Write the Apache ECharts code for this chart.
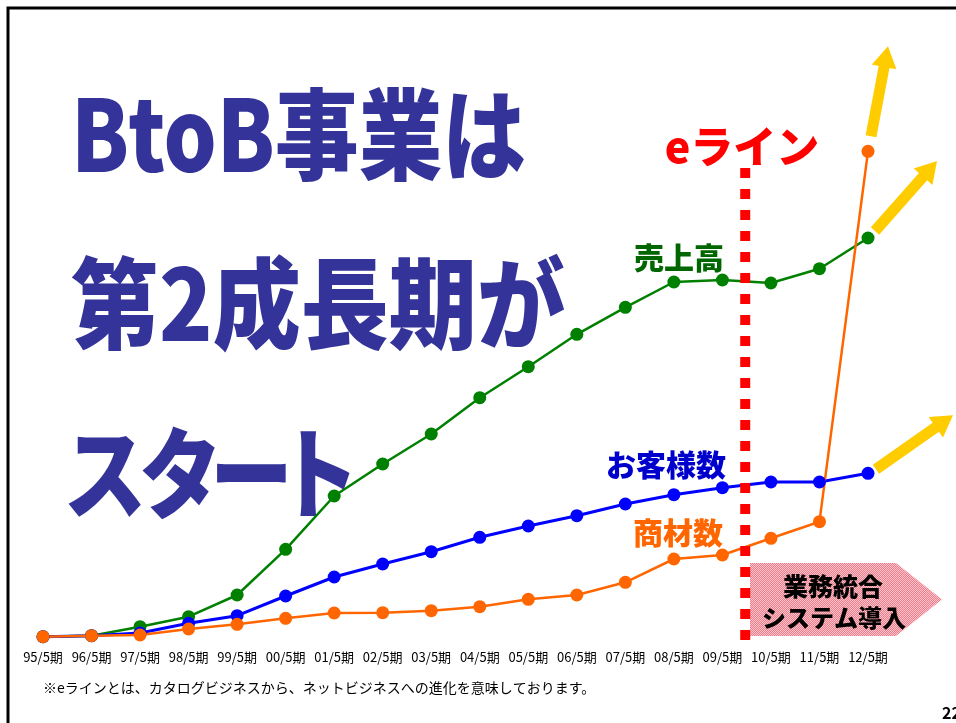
<!DOCTYPE html>
<html>
<head>
<meta charset="utf-8">
<script src="https://cdn.jsdelivr.net/npm/echarts@6/dist/echarts.min.js"></script>
<style>
  html, body { margin: 0; padding: 0; background: #fff; }
  #chart { width: 956px; height: 723px; }
</style>
</head>
<body>
<div id="chart"></div>
<script>
// Fiscal periods on the x axis
const periods = ['95/5期', '96/5期', '97/5期', '98/5期', '99/5期', '00/5期', '01/5期', '02/5期', '03/5期',
                 '04/5期', '05/5期', '06/5期', '07/5期', '08/5期', '09/5期', '10/5期', '11/5期', '12/5期'];

// Relative index values per period
const sales     = [9.3, 10.3, 19.3, 29.3, 51, 96.7, 150, 182, 212, 248.3, 279.3, 311.7, 338.7, 364, 366, 363, 377.3, 408];
const customers = [9.3, 10.3, 13, 22.7, 30.3, 50, 69, 82, 94.3, 108.7, 120, 130.3, 142, 151.3, 158.3, 164, 164, 172.7];
const products  = [9.3, 10.3, 11, 17, 21.7, 27.7, 33, 33.3, 35.3, 39.3, 46.7, 51, 63.7, 87, 91, 107.7, 124.3, 494.7];

const seriesNames = ['売上高', 'お客様数', '商材数'];
const titleLines = ['BtoB事業は', '第2成長期が', 'スタート'];
const eLineLabel = 'eライン';
const boxLines = ['業務統合', 'システム導入'];
const footnote = '※eラインとは、カタログビジネスから、ネットビジネスへの進化を意味しております。';
const pageNo = '22';

const JP = '"Noto Sans CJK JP", "Noto Sans", sans-serif';
const NAVY = '#333399';

const chart = echarts.init(document.getElementById('chart'), null, { renderer: 'canvas' });

function lineSeries(name, data, color, width) {
  return {
    name: name,
    type: 'line',
    data: data,
    symbol: 'circle',
    symbolSize: 13,
    showSymbol: true,
    lineStyle: { color: color, width: width },
    itemStyle: { color: color },
    emphasis: { disabled: true },
    animation: false
  };
}

chart.setOption({
  animation: false,
  backgroundColor: '#ffffff',
  grid: { left: 43, right: 88, top: 46, bottom: 77 },
  xAxis: {
    type: 'category',
    data: periods,
    boundaryGap: false,
    axisLine: { show: false },
    axisTick: { show: false },
    splitLine: { show: false },
    axisLabel: { interval: 0, margin: 5, fontSize: 13, color: '#000', fontFamily: JP }
  },
  yAxis: { type: 'value', min: 0, max: 600, show: false },
  series: [
    lineSeries(seriesNames[0], sales, '#008000', 2.5),
    lineSeries(seriesNames[1], customers, '#0000FF', 3),
    lineSeries(seriesNames[2], products, '#FF6600', 2.5)
  ]
});

// ---- decorations placed from the axes' own scale ----
const last = periods.length - 1;
function px(cat, val) { return chart.convertToPixel({ seriesIndex: 0 }, [cat, val]); }

const measureCtx = document.createElement('canvas').getContext('2d');
function textWidth(text, font) { measureCtx.font = font; return measureCtx.measureText(text).width; }

// thick block arrow from s to t
function arrowPoints(s, t) {
  const dx = t[0] - s[0], dy = t[1] - s[1];
  const len = Math.hypot(dx, dy);
  const ux = dx / len, uy = dy / len;
  const nx = -uy, ny = ux;
  const w = 5.5, h = 12.5, L = 21;
  const b = [t[0] - ux * L, t[1] - uy * L];
  return [
    [s[0] + nx * w, s[1] + ny * w],
    [b[0] + nx * w, b[1] + ny * w],
    [b[0] + nx * h, b[1] + ny * h],
    t,
    [b[0] - nx * h, b[1] - ny * h],
    [b[0] - nx * w, b[1] - ny * w],
    [s[0] - nx * w, s[1] - ny * w]
  ];
}

const pSales = px(last, sales[last]);
const pCust = px(last, customers[last]);
const pProd = px(last, products[last]);

const arrows = [
  [[pProd[0] + 3, pProd[1] - 15], [pProd[0] + 20, pProd[1] - 105]],
  [[pSales[0] + 7, pSales[1] - 7], [pSales[0] + 69, pSales[1] - 77]],
  [[pCust[0] + 8, pCust[1] - 4], [pCust[0] + 85, pCust[1] - 58]]
].map(function (a) {
  return { type: 'polygon', shape: { points: arrowPoints(a[0], a[1]) }, style: { fill: '#FFCC00' }, z: 5, silent: true };
});

// e-line sits between the 09/5 and 10/5 periods
const x09 = px(14, 0)[0], x10 = px(15, 0)[0];
const eX = x09 + (x10 - x09) * 0.47;
const yBase = px(0, 0)[1];

// title lines
const titleFont = '900 92px ' + JP;
const titleY = [134, 303, 473];
const titleWidths = [455, 494];
const titleEls = [];
[0, 1].forEach(function (i) {
  const sx = titleWidths[i] / textWidth(titleLines[i], titleFont);
  titleEls.push({
    type: 'text', x: 71, y: titleY[i], scaleX: sx, scaleY: 1.08, silent: true, z: 3,
    style: { text: titleLines[i], x: 0, y: 0, fill: NAVY, font: titleFont, align: 'left', verticalAlign: 'middle' }
  });
});
// third line set with proportional kana spacing
const kanaCenters = [105, 180.5, 251.5, 318];
Array.from(titleLines[2]).forEach(function (ch, i) {
  titleEls.push({
    type: 'text', x: kanaCenters[i], y: titleY[2], scaleX: 0.9, scaleY: 1.08, silent: true, z: 3,
    style: { text: ch, x: 0, y: 0, fill: NAVY, font: titleFont, align: 'center', verticalAlign: 'middle' }
  });
});

// dithered pink fill for the process arrow
const pat = document.createElement('canvas');
pat.width = 2; pat.height = 2;
const pc = pat.getContext('2d');
pc.fillStyle = '#F27C8B'; pc.fillRect(0, 0, 2, 2);
pc.fillStyle = '#FAC6CC'; pc.fillRect(0, 0, 1, 1); pc.fillRect(1, 1, 1, 1);

function label(text, x, y, color, size, extra) {
  return Object.assign({
    type: 'text', x: x, y: y, silent: true, z: 6,
    style: { text: text, x: 0, y: 0, fill: color, font: '900 ' + size + 'px ' + JP, align: 'center', verticalAlign: 'middle' }
  }, extra || {});
}

chart.setOption({
  graphic: [
    // slide frame
    { type: 'rect', shape: { x: 8, y: 8, width: 1000, height: 800 }, style: { fill: 'none', stroke: '#000', lineWidth: 3 }, silent: true, z: 1 },
    // process arrow box
    { type: 'polygon', shape: { points: [[750, 563], [896, 563], [942, 599.5], [896, 636], [750, 636]] },
      style: { fill: { image: pat, repeat: 'repeat' } }, silent: true, z: 2 },
    label(boxLines[0], 833, 586, '#000', 25),
    label(boxLines[1], 834, 618, '#000', 24),
    // e-line
    { type: 'line', shape: { x1: eX, y1: 168, x2: eX, y2: yBase }, style: { stroke: '#FF0000', lineWidth: 10, lineDash: [10, 11] }, silent: true, z: 4 },
    label(eLineLabel, 742, 147, '#FF0000', 43),
    // series names
    label(seriesNames[0], 679, 258, '#006600', 30),
    label(seriesNames[1], 666, 465, '#0000CC', 30),
    label(seriesNames[2], 678, 533, '#FF6600', 30),
    // footnote and page number
    { type: 'text', x: 43, y: 688, silent: true, z: 6,
      style: { text: footnote, x: 0, y: 0, fill: '#000', font: '14px ' + JP, align: 'left', verticalAlign: 'middle' } },
    { type: 'text', x: 942, y: 713, silent: true, z: 6,
      style: { text: pageNo, x: 0, y: 0, fill: '#000', font: 'bold 16px ' + JP, align: 'left', verticalAlign: 'middle' } }
  ].concat(arrows, titleEls)
});
</script>
</body>
</html>
